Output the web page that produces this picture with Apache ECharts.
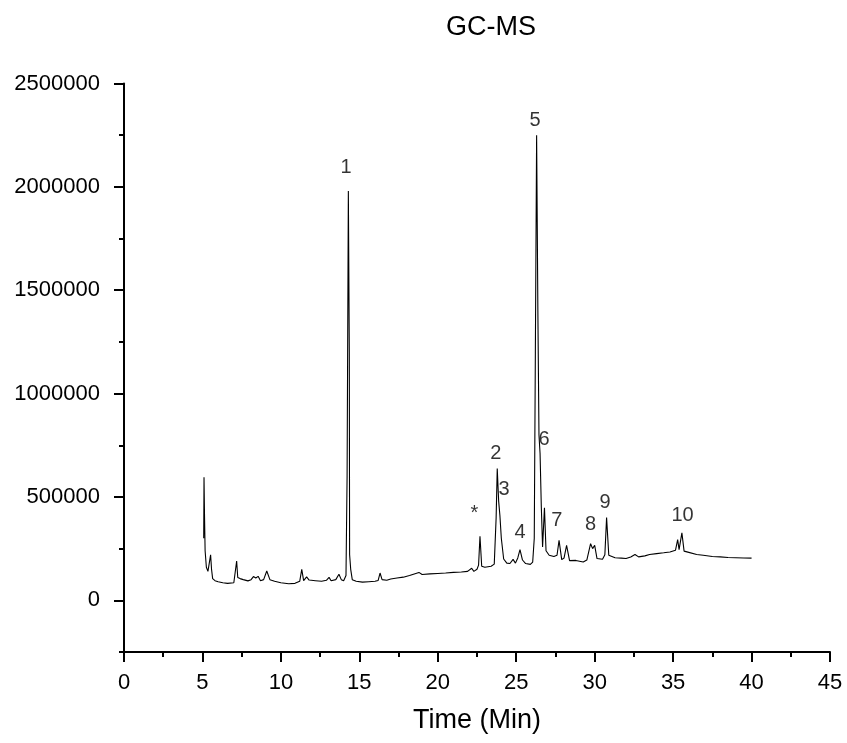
<!DOCTYPE html>
<html>
<head>
<meta charset="utf-8">
<title>GC-MS</title>
<script src="https://cdn.jsdelivr.net/npm/echarts@6/dist/echarts.min.js"></script>
<style>
  html, body { margin: 0; padding: 0; background: #fff; }
  #chart { width: 847px; height: 743px; }
</style>
</head>
<body>
<div id="chart"></div>
<script>
// retention time (min) and detector intensity
var timeMin = [
  5.08, 5.10, 5.13, 5.17, 5.25, 5.35, 5.45, 5.52, 5.58, 5.65, 5.8, 6.0, 6.3, 6.6, 7.0, 7.12, 7.18, 7.25, 7.4, 7.6,
  7.9, 8.1, 8.25, 8.4, 8.55, 8.7, 8.9, 9.1, 9.3, 9.6, 10.0, 10.5, 10.9, 11.2, 11.33, 11.45, 11.64, 11.8, 12.2, 12.6,
  12.9, 13.07, 13.2, 13.5, 13.7, 13.85, 14.0, 14.15, 14.22, 14.3, 14.36, 14.38, 14.45, 14.55, 14.8, 15.2, 15.6, 16.0, 16.2, 16.32,
  16.45, 16.75, 17.0, 17.4, 17.8, 18.2, 18.4, 18.8, 19.0, 19.5, 20.0, 20.5, 21.0, 21.5, 21.9, 22.16, 22.3, 22.5, 22.6, 22.69,
  22.8, 23.0, 23.4, 23.6, 23.72, 23.79, 23.88, 23.96, 24.05, 24.2, 24.4, 24.6, 24.8, 24.95, 25.1, 25.24, 25.4, 25.6, 25.9, 26.05,
  26.15, 26.22, 26.3, 26.38, 26.45, 26.52, 26.6, 26.68, 26.8, 26.9, 27.1, 27.4, 27.6, 27.73, 27.9, 28.05, 28.21, 28.4, 28.8, 29.27,
  29.5, 29.74, 29.87, 30.0, 30.15, 30.5, 30.65, 30.76, 30.9, 31.3, 31.7, 32.0, 32.3, 32.57, 32.8, 33.2, 33.5, 33.95, 34.4, 34.8,
  35.15, 35.29, 35.38, 35.56, 35.7, 36.0, 36.5, 36.92, 37.5, 38.0, 38.5, 39.0, 39.5, 40.0
]
var intensity = [
  300000, 595000, 420000, 240000, 160000, 140000, 135000, 220000, 150000, 105000, 95000, 90000, 85000, 82000, 85000, 88000, 190000, 110000, 105000, 100000,
  94000, 100000, 115000, 108000, 116000, 95000, 100000, 142000, 100000, 92000, 85000, 80000, 82000, 92000, 150000, 95000, 113000, 98000, 95000, 92000,
  97000, 111000, 95000, 100000, 126000, 100000, 95000, 120000, 600000, 1980000, 1200000, 222000, 150000, 100000, 92000, 88000, 90000, 92000, 96000, 132000,
  100000, 97000, 103000, 108000, 112000, 120000, 125000, 135000, 125000, 128000, 130000, 132000, 135000, 137000, 140000, 155000, 140000, 150000, 170000, 310000,
  165000, 160000, 165000, 175000, 400000, 637000, 480000, 410000, 300000, 200000, 180000, 178000, 198000, 180000, 205000, 245000, 195000, 178000, 174000, 185000,
  300000, 1200000, 2250000, 1400000, 800000, 710000, 450000, 258000, 448000, 240000, 218000, 212000, 218000, 290000, 197000, 205000, 266000, 192000, 193000, 185000,
  195000, 274000, 250000, 266000, 202000, 199000, 220000, 400000, 218000, 206000, 204000, 202000, 210000, 222000, 210000, 215000, 222000, 226000, 230000, 234000,
  242000, 294000, 245000, 326000, 238000, 232000, 222000, 218000, 212000, 210000, 207000, 206000, 205000, 204000
]
// peak annotations: text, time, intensity
var peakNames = ['*', '1', '2', '3', '4', '5', '6', '7', '8', '9', '10']
var peakTime = [22.33, 14.15, 23.7, 24.22, 25.24, 26.2, 26.77, 27.58, 29.74, 30.66, 35.6]
var peakLevel = [422000, 2095000, 711000, 537000, 326000, 2320000, 777000, 387000, 368000, 471000, 411000]

var yMajor = [0, 500000, 1000000, 1500000, 2000000, 2500000]
var yMinor = [-250000, 250000, 750000, 1250000, 1750000, 2250000]
var xMajor = [0, 5, 10, 15, 20, 25, 30, 35, 40, 45]
var xMinor = [2.5, 7.5, 12.5, 17.5, 22.5, 27.5, 32.5, 37.5, 42.5]

var font = "'Liberation Sans', Arial, sans-serif"

var trace = timeMin.map(function (t, i) { return [t, intensity[i]] })
var marks = peakNames.map(function (n, i) { return [peakTime[i], peakLevel[i], n] })

var myChart = echarts.init(document.getElementById('chart'))

var blackLine = { color: '#000', width: 2 }

var option = {
  animation: false,
  backgroundColor: '#fff',
  title: {
    text: 'GC-MS',
    left: 441,
    top: 9,
    textStyle: { fontFamily: font, fontSize: 27, fontWeight: 'normal', color: '#000' }
  },
  grid: { left: 124, right: 17, top: 83.5, bottom: 91, containLabel: false },
  xAxis: [
    {
      type: 'value',
      min: 0,
      max: 45,
      name: 'Time (Min)',
      nameLocation: 'middle',
      nameGap: 55,
      nameTextStyle: { fontFamily: font, fontSize: 27, color: '#000' },
      axisLine: { show: true, onZero: false, lineStyle: blackLine },
      axisTick: { show: true, length: 10, customValues: xMajor, lineStyle: blackLine },
      axisLabel: { margin: 20, customValues: xMajor, fontFamily: font, fontSize: 22, color: '#000' },
      splitLine: { show: false }
    },
    {
      // short ticks half way between the labelled ones
      type: 'value',
      position: 'bottom',
      min: 0,
      max: 45,
      axisLine: { show: false, onZero: false },
      axisTick: { show: true, length: 5, customValues: xMinor, lineStyle: blackLine },
      axisLabel: { show: false },
      splitLine: { show: false }
    }
  ],
  yAxis: [
    {
      type: 'value',
      min: -250000,
      max: 2500000,
      axisLine: { show: true, onZero: false, lineStyle: blackLine },
      axisTick: { show: true, length: 10, customValues: yMajor, lineStyle: blackLine },
      axisLabel: {
        margin: 24,
        customValues: yMajor,
        formatter: function (v) { return String(v) },
        fontFamily: font,
        fontSize: 22,
        color: '#000'
      },
      splitLine: { show: false }
    },
    {
      type: 'value',
      position: 'left',
      min: -250000,
      max: 2500000,
      axisLine: { show: false, onZero: false },
      axisTick: { show: true, length: 5, customValues: yMinor, lineStyle: blackLine },
      axisLabel: { show: false },
      splitLine: { show: false }
    }
  ],
  series: [
    {
      type: 'line',
      data: trace,
      showSymbol: false,
      symbol: 'none',
      lineStyle: { color: '#000', width: 1.1 },
      silent: true
    },
    {
      type: 'scatter',
      data: marks,
      symbolSize: 0,
      silent: true,
      label: {
        show: true,
        position: 'inside',
        formatter: function (p) { return p.value[2] },
        fontFamily: font,
        fontSize: 20,
        color: '#000'
      }
    }
  ]
}

myChart.setOption(option)
</script>
</body>
</html>
